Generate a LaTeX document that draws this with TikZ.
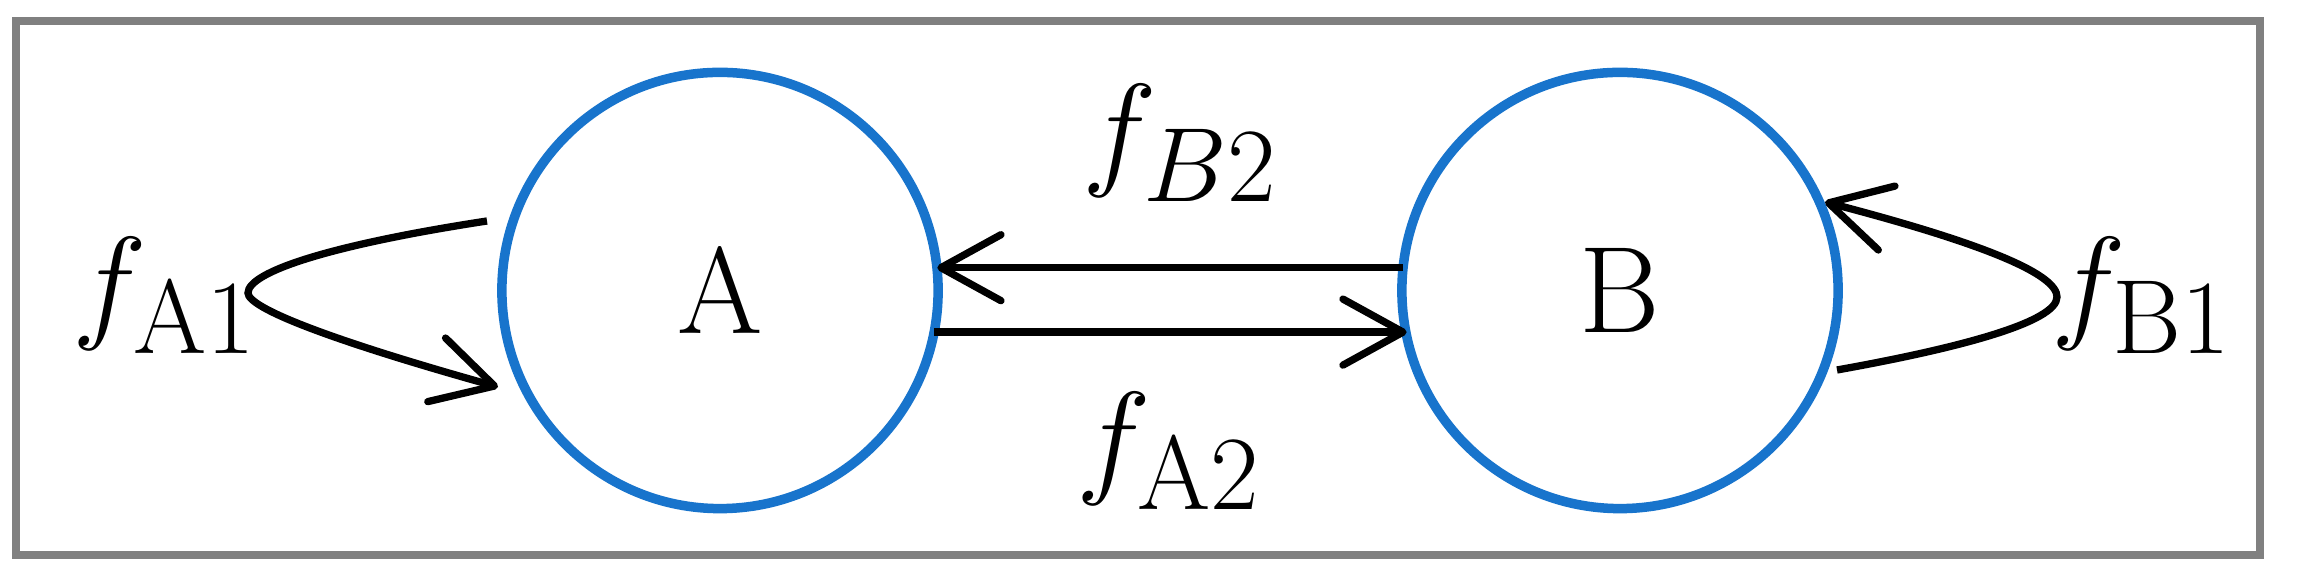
\documentclass[tikz,border=0pt]{standalone}
\usetikzlibrary{arrows.meta}
\definecolor{circblue}{HTML}{1874CC}
\definecolor{framegray}{HTML}{808080}
\begin{document}
\begin{tikzpicture}[x=0.01cm,y=-0.01cm,
  state/.style={circle,draw=circblue,line width=0.095cm,minimum size=4.36cm,inner sep=0pt,outer sep=0pt,font=\fontsize{35}{40}\selectfont},
  flow/.style={draw=black,line width=0.073cm,line cap=butt,-{Straight Barb[length=0.6cm,width=0.66cm,round]}},
  lbl/.style={inner sep=0pt,outer sep=0pt,font=\Huge,scale=1.447}]
\useasboundingbox (0,0) rectangle (2312,571);
\node[draw=framegray,line width=0.08cm,minimum width=22.42cm,minimum height=5.34cm,inner sep=0pt,outer sep=0pt] (frame) at (1138,288) {};
\node[state] (A) at (720,290.5) {A};
\node[state] (B) at (1620,290.5) {B};
\draw[flow] (B.174.7) -- (A.5.3 |- B.174.7);
\draw[flow] (A.-11.1) -- (B.-168.9 |- A.-11.1);
\coordinate (a1s) at (487,221);
\coordinate (a1turn) at (248,293);
\coordinate (a1e) at (498,387);
\draw[flow] (a1s) .. controls (330,245) and (248,272) .. (a1turn) .. controls (248,308) and (330,340) .. (a1e);
\coordinate (b1s) at (1837,370);
\coordinate (b1turn) at (2057,297);
\coordinate (b1e) at (1825,202);
\draw[flow] (b1s) .. controls (1960,348) and (2057,322) .. (b1turn) .. controls (2057,275) and (1990,245) .. (b1e);
\node[lbl] (fA1) at (165,295.5) {$f_{\mathrm{A}1}$};
\node[lbl] (fB1) at (2142,295.5) {$f_{\mathrm{B}1}$};
\node[lbl] (fB2) at (1180,143) {$f_{B2}$};
\node[lbl] (fA2) at (1169,451) {$f_{\mathrm{A}2}$};
\end{tikzpicture}
\end{document}
